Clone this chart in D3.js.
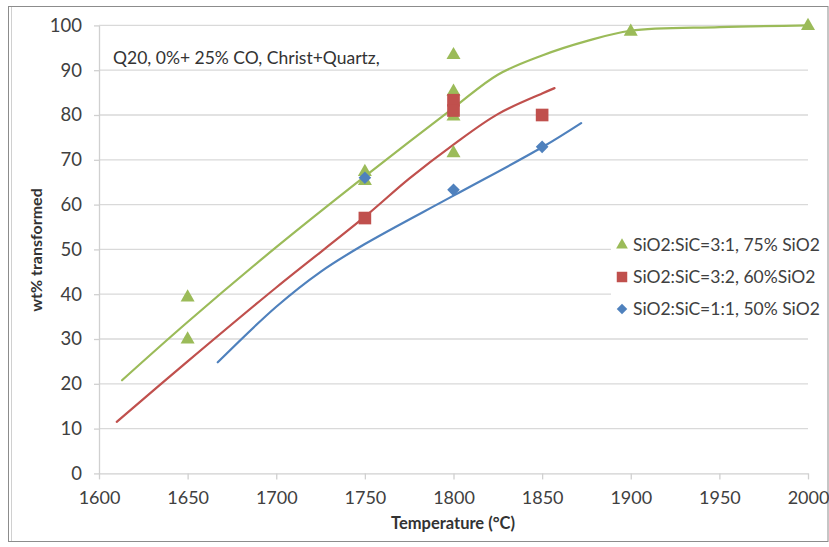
<!DOCTYPE html>
<html>
<head>
<meta charset="utf-8">
<script src="https://cdn.jsdelivr.net/npm/d3@7"></script>
<style>
  html, body { margin: 0; padding: 0; background: #fff; }
  svg { display: block; }
  text { font-family: Lato, "Liberation Sans", sans-serif; }
</style>
</head>
<body>
<svg id="chart" width="829" height="547"></svg>
<script>
// ---- data ----
const xTicks = [1600, 1650, 1700, 1750, 1800, 1850, 1900, 1950, 2000];
const yTicks = [0, 10, 20, 30, 40, 50, 60, 70, 80, 90, 100];

const seriesNames = ["SiO2:SiC=3:1, 75% SiO2", "SiO2:SiC=3:2, 60%SiO2", "SiO2:SiC=1:1, 50% SiO2"];

// measured points
const greenX = [1650, 1650, 1750, 1750, 1800, 1800, 1800, 1800, 1900, 2000];
const greenY = [39.3, 29.9, 67.3, 65.3, 93.4, 85.2, 79.7, 71.5, 98.6, 99.9];
const redX = [1750, 1800, 1800, 1850];
const redY = [57.0, 83.3, 81.0, 80.0];
const blueX = [1750, 1800, 1850];
const blueY = [66.0, 63.3, 72.9];

// fitted trend curves
const greenFitX = [1613, 1650, 1700, 1750, 1800, 1825, 1850, 1875, 1900, 1950, 2000];
const greenFitY = [20.8, 33.8, 50.5, 66.3, 81.6, 89.0, 93.3, 96.5, 98.8, 99.6, 100];
const redFitX = [1610, 1650, 1700, 1750, 1775, 1800, 1825, 1850, 1857];
const redFitY = [11.5, 25.0, 41.5, 57.3, 65.8, 73.4, 80.2, 84.8, 86.0];
const blueFitX = [1667, 1700, 1725, 1750, 1800, 1850, 1872];
const blueFitY = [24.8, 37.2, 45.0, 51.2, 62.0, 72.8, 78.2];

const title = "Q20, 0%+ 25% CO, Christ+Quartz,";
const xTitle = "Temperature (°C)";
const yTitle = "wt% transformed";

// ---- layout ----
const svg = d3.select("#chart");
const mLeft = 99, mRight = 808, mTop = 25.4, mBottom = 473.4;
const colors = ["#9bbb59", "#c0504d", "#4f81bd"];

const x = d3.scaleLinear().domain([1600, 2000]).range([mLeft, mRight]);
const y = d3.scaleLinear().domain([0, 100]).range([mBottom, mTop]);

// outer frame
svg.append("rect").attr("x", 8.5).attr("y", 6.5).attr("width", 819.5).attr("height", 535)
  .attr("fill", "#fff").attr("stroke", "#8c8c8c").attr("stroke-width", 1);
svg.append("line").attr("x1", 11.5).attr("x2", 11.5).attr("y1", 7).attr("y2", 541)
  .attr("stroke", "#d0d0d0");

// gridlines
svg.append("g").selectAll("line").data(yTicks.filter(d => d > 0)).join("line")
  .attr("x1", mLeft).attr("x2", mRight)
  .attr("y1", d => y(d)).attr("y2", d => y(d))
  .attr("stroke", "#d9d9d9").attr("stroke-width", 1.3);

// y axis
const yAxis = svg.append("g").attr("transform", `translate(${mLeft},0)`)
  .call(d3.axisLeft(y).tickValues(yTicks).tickSize(5).tickPadding(12).tickSizeOuter(0));
yAxis.select(".domain").attr("stroke", "#d0d0d0").attr("stroke-width", 1.3);
yAxis.selectAll(".tick line").attr("stroke", "#d0d0d0").attr("stroke-width", 1.3);
yAxis.selectAll(".tick text").attr("font-size", 18.5).attr("fill", "#404040")
  .attr("font-family", "Lato, sans-serif");

// x axis
const xAxis = svg.append("g").attr("transform", `translate(0,${mBottom})`)
  .call(d3.axisBottom(x).tickValues(xTicks).tickFormat(d3.format("d")).tickSize(6).tickPadding(12).tickSizeOuter(0));
xAxis.select(".domain").attr("stroke", "#d0d0d0").attr("stroke-width", 1.3);
xAxis.selectAll(".tick line").attr("stroke", "#d0d0d0").attr("stroke-width", 1.3);
xAxis.selectAll(".tick text").attr("font-size", 18).attr("fill", "#404040")
  .attr("font-family", "Lato, sans-serif");

// titles
svg.append("text").attr("x", 113).attr("y", 64).attr("font-size", 17.5).attr("fill", "#333")
  .text(title);
svg.append("text").attr("x", 453).attr("y", 529).attr("text-anchor", "middle")
  .attr("font-size", 16.5).attr("font-weight", "bold").attr("fill", "#333").text(xTitle);
svg.append("text").attr("transform", "translate(42,250) rotate(-90)").attr("text-anchor", "middle")
  .attr("font-size", 16).attr("font-weight", "bold").attr("fill", "#333").text(yTitle);

// fit curves
const lineGen = d3.line().x(d => x(d[0])).y(d => y(d[1])).curve(d3.curveCatmullRom.alpha(0.5));
const fits = [
  d3.zip(greenFitX, greenFitY),
  d3.zip(redFitX, redFitY),
  d3.zip(blueFitX, blueFitY)
];
fits.forEach((pts, i) => {
  svg.append("path").datum(pts).attr("d", lineGen)
    .attr("fill", "none").attr("stroke", colors[i]).attr("stroke-width", 2.2)
    .attr("stroke-linecap", "round");
});

// markers
const symTri = d3.symbol().type(d3.symbolTriangle).size(85);
const symSq = d3.symbol().type(d3.symbolSquare).size(160);
const symDia = d3.symbol().type(d3.symbolSquare).size(80);

svg.append("g").selectAll("path").data(d3.zip(greenX, greenY)).join("path")
  .attr("d", symTri).attr("fill", colors[0])
  .attr("transform", d => `translate(${x(d[0])},${y(d[1])})`);
svg.append("g").selectAll("path").data(d3.zip(redX, redY)).join("path")
  .attr("d", symSq).attr("fill", colors[1])
  .attr("transform", d => `translate(${x(d[0])},${y(d[1])})`);
svg.append("g").selectAll("path").data(d3.zip(blueX, blueY)).join("path")
  .attr("d", symDia).attr("fill", colors[2])
  .attr("transform", d => `translate(${x(d[0])},${y(d[1])}) rotate(45)`);

// legend
const lg = svg.append("g");
lg.append("rect").attr("x", 611).attr("y", 227).attr("width", 214).attr("height", 100).attr("fill", "#fff");
const legendRowY = [245, 277, 309];
const legendSyms = [
  d3.symbol().type(d3.symbolTriangle).size(60),
  d3.symbol().type(d3.symbolSquare).size(110),
  d3.symbol().type(d3.symbolSquare).size(55)
];
const legendRot = [0, 0, 45];
seriesNames.forEach((name, i) => {
  lg.append("path").attr("d", legendSyms[i]).attr("fill", colors[i])
    .attr("transform", `translate(622,${legendRowY[i]}) rotate(${legendRot[i]})`);
  lg.append("text").attr("x", 633).attr("y", legendRowY[i]).attr("dy", "0.35em")
    .attr("font-size", 17.5).attr("fill", "#404040").text(name);
});
</script>
</body>
</html>
